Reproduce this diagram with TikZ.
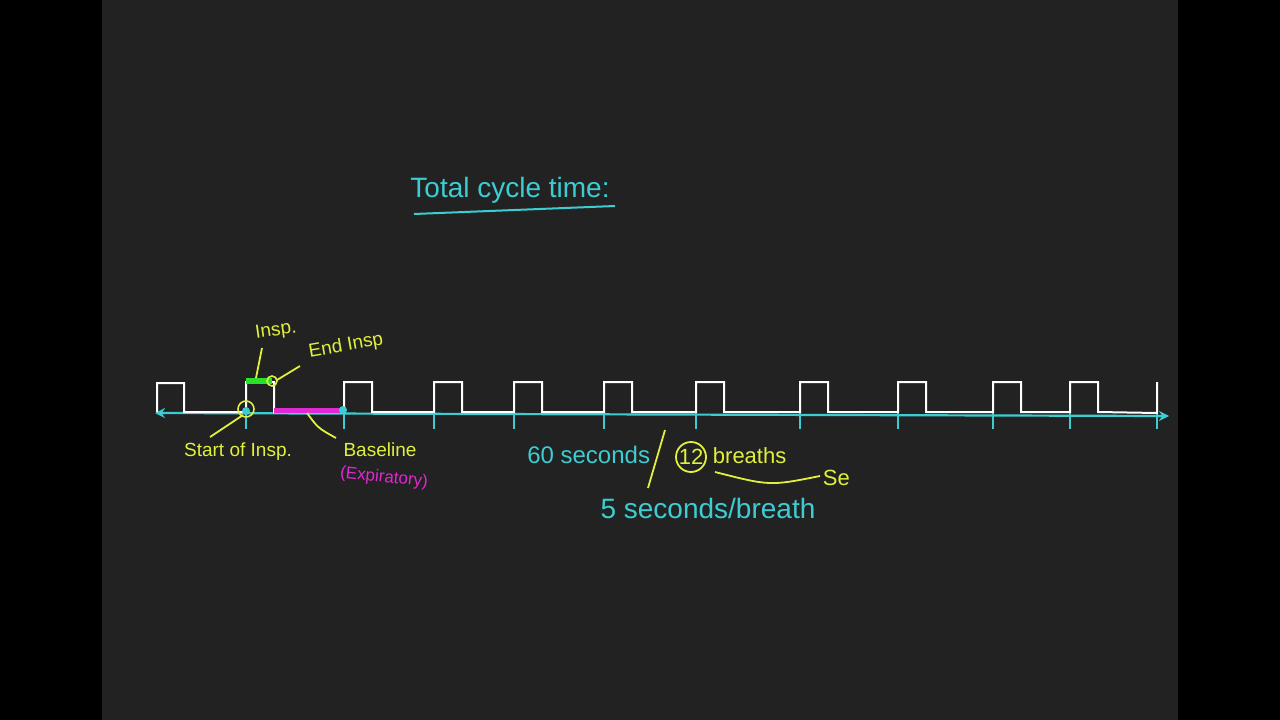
\documentclass[tikz,border=0pt]{standalone}
\usepackage{fontspec}
\setmainfont{Liberation Sans}
\usetikzlibrary{arrows.meta}
\definecolor{board}{RGB}{34,34,34}
\definecolor{penY}{RGB}{225,240,60}
\definecolor{penC}{RGB}{60,205,210}
\definecolor{penM}{RGB}{225,40,210}
\definecolor{penG}{RGB}{40,225,40}
\tikzset{
  pulse/.style={draw=white, line width=2pt},
  axisline/.style={draw=penC, line width=2.2pt},
  ytext/.style={text=penY, font=\fontsize{19}{22}\selectfont, inner sep=0.75pt},
  ctext/.style={text=penC, font=\fontsize{24}{28}\selectfont, inner sep=0.75pt},
  lead/.style={draw=penY, line width=1.8pt}
}
\begin{document}
\begin{tikzpicture}[x=1pt,y=1pt,yscale=-1,xscale=1]
%frame
\fill[black] (0,0) rectangle (1280,720);
\fill[board] (102,0) rectangle (1178,720);

%Axis
\draw[axisline, {Stealth[length=10pt,width=10pt]}-{Stealth[length=10pt,width=10pt]}] (155,413) -- (1169,416);
\foreach \t in {246,344,434,514,604,696,800,898,993,1070,1157}
  \draw[draw=penC, line width=1.6pt] (\t,406) -- (\t,429);

%Pulses
\draw[pulse] (157,412) -- (157,383) -- (184,383) -- (184,412)
  \foreach \p in {246,344,434,514,604,696,800,898,993,1070} {
    -- (\p,412) -- (\p,382) -- (\p+28,382) -- (\p+28,412)
  } -- (1157,413) -- (1157,382);

%Highlights
\draw[draw=penG, line width=6pt] (246,381) -- (272,381);
\draw[draw=penM, line width=5pt] (274,410) -- (340,410);
\draw[draw=penY, line width=1.6pt] (246,409) circle (8);
\draw[draw=penY, line width=1.6pt] (272,381) circle (5);
\fill[penC] (246,411) circle (4);
\fill[penC] (343,410) circle (4);

%Title
\node[ctext, font=\fontsize{28}{32}\selectfont] (title) at (510,190) {Total cycle time:};
\draw[draw=penC, line width=2pt] (414,214) -- (615,206);

%Labels
\node[ytext, rotate=8] (insp) at (276,331) {Insp.};
\node[ytext, rotate=10] (endinsp) at (346,346) {End Insp};
\node[ytext] (start) at (238,452) {Start of Insp.};
\node[ytext] (base) at (380,450) {Baseline};
\node[text=penM, font=\fontsize{17}{20}\selectfont, rotate=-6] (expir) at (384,478) {(Expiratory)};
\draw[lead] (262,348) coordinate (i1) -- (256,378);
\draw[lead] (300,366) coordinate (e1) -- (277,380);
\draw[lead] (210,437) coordinate (s1) -- (243,415);
\draw[lead] (336,438) coordinate (b1) .. controls (318,428) .. (307,413);

%Calculation
\node[ctext, anchor=east] (sixty) at (651,455) {60 seconds};
\draw[draw=penY, line width=1.8pt] (648,488) -- (665,430);
\draw[draw=penY, line width=1.8pt] (691,457) circle (15);
\node[text=penY, font=\fontsize{22}{26}\selectfont, inner sep=0.75pt] (twelve) at (691,457) {12};
\node[ytext, font=\fontsize{22}{26}\selectfont, anchor=west] (breaths) at (712,456) {breaths};
\draw[lead] (715,472) .. controls (770,486) .. (820,476);
\node[ytext, font=\fontsize{22}{26}\selectfont, anchor=west] (se) at (822,478) {Se};
\node[ctext, font=\fontsize{28}{32}\selectfont] (five) at (708,508) {5 seconds/breath};
\end{tikzpicture}
\end{document}
